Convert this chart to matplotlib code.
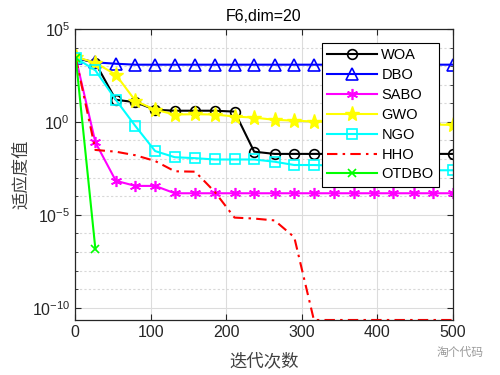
import matplotlib
matplotlib.use("Agg")
import matplotlib.pyplot as plt
from matplotlib.ticker import FixedLocator, NullFormatter

plt.rcParams['font.family'] = ['Liberation Sans', 'Noto Sans CJK SC']
plt.rcParams['mathtext.default'] = 'regular'

# sampled iterations (markers)
iters = [1, 27, 54, 80, 106, 132, 159, 185, 211, 237, 264, 290, 316, 342, 369, 395, 421, 448, 474, 500]

woa = [2.8e3, 1.5e3, 15.5, 11.5, 4.5, 4.0, 4.0, 4.0, 3.6, 2.5e-2, 1.9e-2, 1.9e-2, 1.9e-2,
       1.9e-2, 1.9e-2, 1.9e-2, 1.9e-2, 1.9e-2, 1.9e-2, 1.9e-2]
dbo = [2.8e3, 1.6e3, 1.35e3, 1.2e3, 1.2e3, 1.2e3, 1.2e3, 1.2e3, 1.2e3, 1.2e3, 1.2e3, 1.2e3,
       1.2e3, 1.2e3, 1.2e3, 1.2e3, 1.2e3, 1.2e3, 1.2e3, 1.2e3]
sabo = [2.8e3, 7.9e-2, 6.8e-4, 3.6e-4, 3.6e-4, 1.45e-4, 1.45e-4, 1.45e-4, 1.45e-4, 1.45e-4,
        1.45e-4, 1.45e-4, 1.45e-4, 1.45e-4, 1.45e-4, 1.45e-4, 1.45e-4, 1.45e-4, 1.45e-4, 1.45e-4]
gwo = [3.2e3, 1.5e3, 3.5e2, 13.5, 4.5, 2.5, 2.6, 2.5, 1.95, 1.7, 1.3, 1.17, 1.05, 1.0,
       0.93, 0.87, 0.81, 0.76, 0.72, 0.69]
ngo = [2.8e3, 5.9e2, 15.5, 0.59, 2.7e-2, 1.26e-2, 1.12e-2, 9.5e-3, 9.5e-3, 9.5e-3, 7.2e-3,
       4.8e-3, 4.8e-3, 4.5e-3, 4.0e-3, 3.5e-3, 3.2e-3, 2.8e-3, 2.5e-3, 2.5e-3]
hho = [2.8e3, 3.1e-2, 2.5e-2, 1.6e-2, 7.9e-3, 2.2e-3, 2.1e-3, 1.7e-4, 7.1e-6, 6.3e-6, 5.0e-6,
       6.3e-7, 2.2e-11, 2.2e-11, 2.2e-11, 2.2e-11, 2.2e-11, 2.2e-11, 2.2e-11, 2.2e-11]
otdbo_iters = [1, 27]
otdbo = [2.8e3, 1.4e-7]

fig = plt.figure(figsize=(5, 3.75), dpi=100)
ax = fig.add_axes([0.15, 0.1467, 0.756, 0.776])

lw = 1.5
ax.plot(iters, woa, color='k', marker='o', mfc='none', ms=7, lw=lw, mew=1.2, label='WOA')
ax.plot(iters, dbo, color='#0000ff', marker='^', mfc='none', ms=8, lw=lw, mew=1.2, label='DBO')
ax.plot(iters, sabo, color='#ff00ff', marker=(6, 2, 0), ms=8, lw=lw, mew=1.2, label='SABO')
ax.plot(iters, gwo, color='#ffff00', marker='*', ms=11, lw=lw, label='GWO')
ax.plot(iters, ngo, color='#00ffff', marker='s', mfc='none', ms=7, lw=lw, mew=1.2, label='NGO')
ax.plot(iters, hho, color='#ff0000', ls=(0, (5, 2.5, 1.2, 2.5)), lw=lw, label='HHO')
ax.plot(otdbo_iters, otdbo, color='#00ff00', marker='x', ms=6, lw=lw, mew=1.2, label='OTDBO')

ax.set_yscale('log')
ax.set_xlim(0, 500)
ax.set_ylim(2.2e-11, 1e5)
ax.set_xticks([0, 100, 200, 300, 400, 500])
ax.yaxis.set_major_locator(FixedLocator([1e-10, 1e-5, 1e0, 1e5]))
ax.yaxis.set_minor_locator(FixedLocator([10.0 ** k for k in range(-10, 6)]))
ax.yaxis.set_minor_formatter(NullFormatter())

ax.grid(True, which='major', color='#dcdcdc', lw=0.8, ls='-')
ax.grid(True, which='minor', axis='y', color='#d8d8d8', lw=0.8, ls=(0, (2, 2)))
ax.set_axisbelow(True)

ax.tick_params(which='both', direction='in', top=True, right=True, labelsize=11.5, colors='#262626')
ax.tick_params(which='major', length=4, width=0.8)
ax.tick_params(which='minor', length=2, width=0.6)
for sp in ax.spines.values():
    sp.set_color('#262626')
    sp.set_linewidth(0.9)

ax.set_title('F6,dim=20', fontsize=11.5, color='#000000', pad=6)
ax.set_xlabel('迭代次数', fontsize=12.5, color='#404040', labelpad=9)
ax.set_ylabel('适应度值', fontsize=12.5, color='#404040', labelpad=2)

leg = ax.legend(loc='upper right', bbox_to_anchor=(0.964, 0.953), borderaxespad=0,
                fancybox=False, edgecolor='k', framealpha=1, fontsize=10.5,
                handlelength=3.4, labelspacing=0.4, borderpad=0.4, handletextpad=0.3)
leg.get_frame().set_linewidth(0.8)

fig.text(0.874, 0.052, '淘个代码', fontsize=8.5, color='#9a9a9a', family='Noto Sans CJK SC')

fig.savefig('out.png', dpi=100)
